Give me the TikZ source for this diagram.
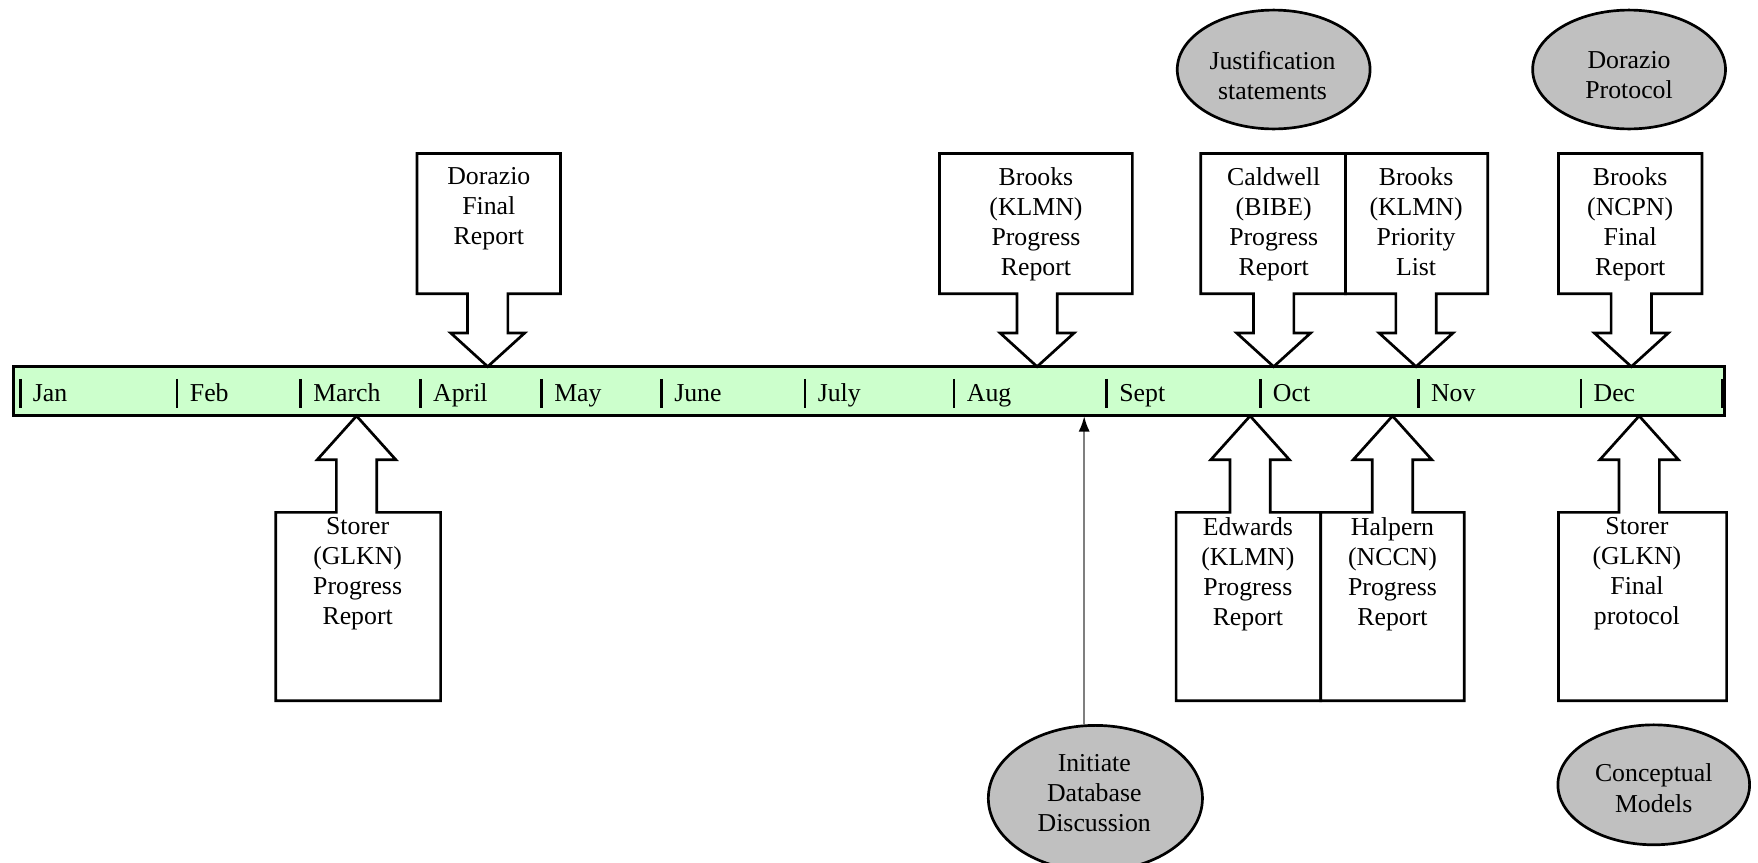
\documentclass[tikz,border=0pt]{standalone}
\usepackage{fontspec}
\setmainfont{Liberation Serif}
\usetikzlibrary{shapes.geometric,arrows.meta}
\definecolor{barfill}{HTML}{CCFFCC}
\definecolor{ovalfill}{HTML}{C0C0C0}
\definecolor{linkgray}{HTML}{7F7F7F}

% box with a block arrow pointing down to the timeline
\newcommand\topcallout[3]{%
  \draw[callout] (#1,137) -- (#2,137) -- (#2,262) -- (#3+18,262) -- (#3+18,297)
    -- (#3+33,297) -- (#3,327) -- (#3-33,297) -- (#3-18,297) -- (#3-18,262)
    -- (#1,262) -- cycle;}
% box with a block arrow pointing up to the timeline
\newcommand\botcallout[3]{%
  \draw[callout] (#1,625) -- (#2,625) -- (#2,457) -- (#3+18,457) -- (#3+18,410)
    -- (#3+35,410) -- (#3,371) -- (#3-35,410) -- (#3-18,410) -- (#3-18,457)
    -- (#1,457) -- cycle;}

\begin{document}
\begin{tikzpicture}[x=0.5pt,y=-0.5pt,
  every node/.style={font=\fontsize{11.5}{13.4}\selectfont},
  callout/.style={draw=black,line width=1.2pt,fill=white,line join=miter},
  lbl/.style={align=center,inner sep=0pt,anchor=north},
  oval/.style={ellipse,draw=black,line width=1.2pt,fill=ovalfill,inner sep=0pt},
  ovaltext/.style={align=center,inner sep=0pt},
  bar/.style={rectangle,draw=black,line width=1.3pt,fill=barfill,minimum width=763pt,minimum height=22pt,inner sep=0pt},
  tick/.style={line width=1.2pt},
  month/.style={anchor=base west,inner sep=0pt}]
\useasboundingbox (0,0) rectangle (1568,769);

% timeline
\node[bar] (bar) at (775,349) {};
\foreach \x/\m [count=\i] in {18/Jan,158/Feb,268/March,375/April,483/May,590/June,
    718/July,851/Aug,987/Sept,1124/Oct,1265/Nov,1410/Dec} {
  \draw[tick] (\x,338) -- (\x,364);
  \node[month] (m\i) at (\x+11,358) {\m};
}
\draw[tick] (1536,338) -- (1536,364);

% milestones above the timeline
\topcallout{372}{500}{435}
\node[lbl] (dorazioFinal) at (436,149) {Dorazio\\Final\\Report};
\topcallout{838}{1010}{925}
\node[lbl] (brooksProgress) at (924,149) {Brooks\\(KLMN)\\Progress\\Report};
\topcallout{1071}{1200}{1136}
\node[lbl] (caldwell) at (1136,149) {Caldwell\\(BIBE)\\Progress\\Report};
\topcallout{1200}{1327}{1263}
\node[lbl] (brooksPriority) at (1263,149) {Brooks\\(KLMN)\\Priority\\List};
\topcallout{1390}{1518}{1455}
\node[lbl] (brooksFinal) at (1454,149) {Brooks\\(NCPN)\\Final\\Report};

% milestones below the timeline
\botcallout{246}{393}{318}
\node[lbl] (storerProgress) at (319,461) {Storer\\(GLKN)\\Progress\\Report};
\botcallout{1049}{1178}{1115}
\node[lbl] (edwards) at (1113,461) {Edwards\\(KLMN)\\Progress\\Report};
\botcallout{1178}{1306}{1242}
\node[lbl] (halpern) at (1242,461) {Halpern\\(NCCN)\\Progress\\Report};
\botcallout{1390}{1540}{1462}
\node[lbl] (storerFinal) at (1460,461) {Storer\\(GLKN)\\Final\\protocol};

% products
\node[oval,minimum width=86pt,minimum height=53pt] (justif) at (1136,62) {};
\node[ovaltext] (justifText) at (1135,67) {Justification\\statements};
\node[oval,minimum width=86pt,minimum height=53pt] (dorazioProt) at (1453,62) {};
\node[ovaltext] (dorazioProtText) at (1453,67) {Dorazio\\Protocol};
\node[oval,minimum width=85.5pt,minimum height=53.5pt] (concept) at (1475,700) {};
\node[ovaltext] (conceptText) at (1475,703) {Conceptual\\Models};
\node[oval,minimum width=95.5pt,minimum height=65pt] (initdb) at (977,712) {};
\node[ovaltext] (initdbText) at (976,707) {Initiate\\Database\\Discussion};

% link from the database discussion to the timeline
\coordinate (dbhit) at (967,371);
\draw[linkgray,line width=1pt,-{Latex[color=black,length=7pt,width=5pt]}]
  (initdb.north -| dbhit) -- (dbhit);
\end{tikzpicture}
\end{document}
